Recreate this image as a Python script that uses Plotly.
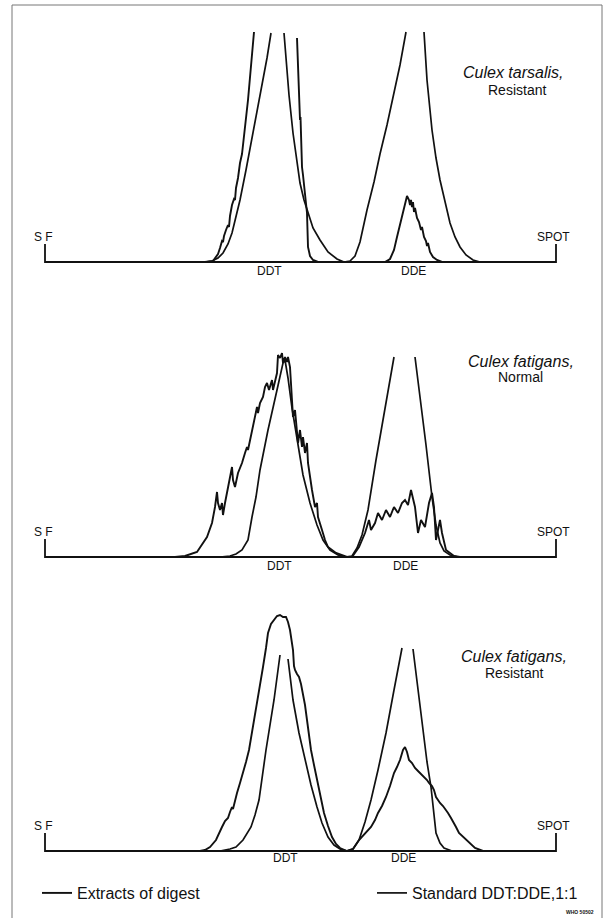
import plotly.graph_objects as go

# ---------------- data (position along strip: SF=0 ... SPOT=511; pen deflection above baseline) -------------
SF_POS = 0
SPOT_POS = 511
TICK_H = 18

# Panel 1: Culex tarsalis, Resistant
P1_STD_X = [0, 160, 167, 173, 178, 183, 187, 191, 195, 201, 208, 213, 218, 222, 226, None,
            239, 241, 244, 248, 252, 255, 259, 263, 268, 275, 283, 292, 299, 305, 310, 315, 322, 329, 335, 342, 348, 355, 361, None,
            379, 382, 387, 391, 395, 400, 405, 410, 415, 421, 428, 435, 511]
P1_STD_Y = [0, 0, 1, 4, 9, 18, 29, 45, 62, 92, 129, 154, 182, 204, 229, None,
            229, 202, 167, 129, 100, 79, 62, 49, 34, 22, 10, 3, 0, 1, 6, 20, 52, 80, 108, 137, 165, 197, 230, None,
            230, 182, 132, 104, 82, 59, 39, 25, 15, 7, 2, 0, 0]
P1_EXT_X = [0, 160, 168, 173, 175, 177, 178, 179, 181, 183, 184, 185, 187, 189, 190, 191, 193, 195, 197, 200, 203, 206, 209, None,
            252, 254, 255, 255.5, 256, 257, 258, 259, 260, 261, 262, 262.5, 263, 265, 268, 273, 340, 345, 349, 352, 355, 358, 360, 362,
            364, 365, 366, 367, 368, 369, 370, 372, 374, 376, 377, 379, 381, 382, 383, 385, 388, 392, 397, 511]
P1_EXT_Y = [0, 0, 1, 8, 14, 21, 20, 26, 32, 37, 35, 46, 57, 63, 62, 74, 84, 99, 108, 132, 162, 196, 230, None,
            224, 162, 142, 145, 112, 95, 87, 77, 67, 57, 49, 32, 15, 6, 2, 0, 0, 3, 12, 25, 37, 49, 59, 66,
            62, 57, 62, 55, 60, 50, 54, 44, 40, 32, 35, 25, 21, 16, 19, 10, 5, 2, 0, 0]

# Panel 2: Culex fatigans, Normal
P2_STD_X = [0, 175, 185, 191, 197, 203, 207, 211, 215, 223, 232, 238, 240, 243, 247, 252, 258, 265, 272, 278, 285, 293, 300,
            307, 312, 317, 323, 331, 340, 349, None, 370, 375, 381, 387, 391, 395, 399, 405, 413, 511]
P2_STD_Y = [0, 0, 1, 3, 7, 17, 40, 60, 87, 127, 167, 194, 197, 179, 149, 117, 82, 54, 32, 17, 7, 2, 0,
            1, 9, 22, 47, 97, 147, 200, None, 200, 162, 112, 60, 32, 14, 6, 2, 0, 0]
P2_EXT_X = [0, 130, 140, 152, 162, 167, 170, 172, 173, 175, 177, 178, 180, 183, 187, 188, 190, 193, 197, 200, 202, 203, 207,
            210, 212, 213, 215, 218, 220, 222, 224, 227, 228, 232, 233, 235, 237, 238, 240, 242, 243, 245, 247, 248, 250, 252,
            253, 255, 257, 258, 260, 262, 263, 267, 268, 270, 272, 273, 277, 280, 283, 291, 302, 307, 314, 320, 324, 326, 330,
            333, 337, 341, 345, 349, 353, 357, 360, 363, 366, 370, 373, 376, 380, 384, 387, 389, 391, 395, 397, 401, 409, 415, 511]
P2_EXT_Y = [0, 0, 1, 5, 20, 34, 50, 65, 54, 47, 54, 42, 54, 70, 90, 77, 70, 84, 94, 104, 110, 107, 127,
            140, 150, 144, 154, 160, 170, 174, 167, 177, 167, 184, 202, 199, 204, 194, 200, 195, 200, 190, 160, 140, 147, 127,
            114, 127, 110, 120, 104, 114, 94, 67, 60, 50, 54, 40, 27, 17, 10, 4, 0, 0, 10, 24, 37, 27, 34,
            44, 37, 47, 40, 50, 44, 54, 57, 52, 67, 50, 24, 37, 30, 54, 64, 50, 17, 37, 24, 7, 1, 0, 0]

# Panel 3: Culex fatigans, Resistant
P3_STD_X = [0, 175, 185, 191, 198, 206, 210, 214, 221, 229, 235, None,
            243, 248, 254, 260, 266, 272, 277, 283, 289, 295, 302, 308, 314, 320, 326, 333, 341, 349, 357, None,
            368, 373, 378, 382, 386, 389, 391, 395, 399, 407, 511]
P3_STD_Y = [0, 0, 2, 4, 11, 24, 36, 51, 101, 151, 196, None,
            192, 151, 118, 91, 66, 44, 28, 14, 6, 2, 0, 2, 11, 29, 51, 81, 118, 161, 203, None,
            202, 161, 118, 89, 64, 36, 18, 8, 3, 0, 0]
P3_EXT_X = [0, 155, 160, 165, 171, 174, 177, 180, 183, 185, 187, 188, 190, 192, 195, 198, 201, 204, 207, 210, 214, 218, 221,
            223, 226, 229, 232, 235, 238, 241, 243, 245, 247, 248, 249, 250, 252, 254, 256, 258, 260, 262, 264, 266, 269, 272,
            275, 279, 283, 287, 291, 295, 302, 308, 314, 320, 326, 330, 333, 337, 341, 345, 349, 352, 355, 358, 360, 362, 364,
            367, 370, 373, 376, 380, 382, 384, 387, 389, 391, 393, 395, 398, 401, 403, 406, 409, 411, 414, 417, 422, 426, 430,
            438, 511]
P3_EXT_Y = [0, 0, 1, 4, 11, 18, 24, 30, 33, 39, 44, 42, 51, 58, 68, 78, 89, 101, 118, 138, 161, 184, 203,
            218, 227, 231, 235, 236, 234, 234, 229, 221, 209, 201, 185, 181, 177, 174, 167, 158, 146, 131, 115, 101, 86, 71,
            56, 38, 25, 14, 7, 3, 0, 2, 11, 17, 24, 31, 38, 45, 54, 65, 78, 84, 91, 101, 104, 99, 91,
            88, 83, 80, 77, 74, 71, 68, 65, 61, 54, 51, 48, 45, 41, 38, 33, 28, 24, 18, 15, 11, 6, 3,
            0, 0]

PANELS = [
    ("y", P1_STD_X, P1_STD_Y, P1_EXT_X, P1_EXT_Y, "Culex tarsalis,", "Resistant"),
    ("y2", P2_STD_X, P2_STD_Y, P2_EXT_X, P2_EXT_Y, "Culex fatigans,", "Normal"),
    ("y3", P3_STD_X, P3_STD_Y, P3_EXT_X, P3_EXT_Y, "Culex fatigans,", "Resistant"),
]
PEAK_LABELS = ["DDT", "DDE"]
PEAK_LABEL_POS = [[224, 368], [234, 360], [240, 358]]
TITLE_POS = [(468, 190, 472, 172), (476, 195, 475, 180), (469, 195, 469, 178)]
LABEL_Y = [-9, -9, -7]
LEGEND_NAMES = ["Extracts of digest", "Standard DDT:DDE,1:1"]

W, H = 607, 918
FONT = "Liberation Sans, Arial, sans-serif"
INK = "#111111"

fig = go.Figure()
annotations = []
for i, (yref, sx, sy, ex, ey, t1, t2) in enumerate(PANELS):
    # SF / SPOT frame
    fig.add_trace(go.Scatter(x=[SF_POS, SF_POS, SPOT_POS, SPOT_POS], y=[TICK_H, 0, 0, TICK_H], mode="lines",
                             line=dict(color=INK, width=1.8), yaxis=yref, showlegend=False, hoverinfo="skip"))
    fig.add_trace(go.Scatter(x=sx, y=sy, mode="lines", line=dict(color=INK, width=1.7),
                             yaxis=yref, showlegend=(i == 0), name=LEGEND_NAMES[1], legend="legend2",
                             connectgaps=False))
    fig.add_trace(go.Scatter(x=ex, y=ey, mode="lines", line=dict(color=INK, width=1.9),
                             yaxis=yref, showlegend=(i == 0), name=LEGEND_NAMES[0], legend="legend",
                             connectgaps=False))
    fs = dict(family=FONT, size=12, color=INK)
    annotations.append(dict(x=SF_POS - 2, y=TICK_H + 7, xref="x", yref=yref, text="S F", showarrow=False,
                            font=fs, xanchor="center", yanchor="middle"))
    annotations.append(dict(x=SPOT_POS - 3, y=TICK_H + 7, xref="x", yref=yref, text="SPOT", showarrow=False,
                            font=fs, xanchor="center", yanchor="middle"))
    for lab, px in zip(PEAK_LABELS, PEAK_LABEL_POS[i]):
        annotations.append(dict(x=px, y=LABEL_Y[i], xref="x", yref=yref, text=lab, showarrow=False,
                                font=fs, xanchor="center", yanchor="middle"))
    tx1, ty1, tx2, ty2 = TITLE_POS[i]
    annotations.append(dict(x=tx1, y=ty1, xref="x", yref=yref, text="<i>" + t1 + "</i>", showarrow=False,
                            font=dict(family=FONT, size=16, color=INK), xanchor="center", yanchor="middle"))
    annotations.append(dict(x=tx2, y=ty2, xref="x", yref=yref, text=t2, showarrow=False,
                            font=dict(family=FONT, size=14, color=INK), xanchor="center", yanchor="middle"))

annotations.append(dict(x=580 / W, y=1 - 912 / H, xref="paper", yref="paper", text="<b>WHO 50502</b>",
                        showarrow=False, font=dict(family=FONT, size=5, color=INK), xanchor="center",
                        yanchor="middle"))

hidden = dict(visible=False, showgrid=False, zeroline=False, fixedrange=True)
fig.update_layout(
    width=W, height=H,
    margin=dict(l=0, r=0, t=0, b=0),
    paper_bgcolor="white", plot_bgcolor="white",
    xaxis=dict(range=[-45, 562], **hidden),
    yaxis=dict(domain=[1 - 300 / H, 1], range=[-38, 262], anchor="x", **hidden),
    yaxis2=dict(domain=[1 - 600 / H, 1 - 300 / H], range=[-43, 257], anchor="x", **hidden),
    yaxis3=dict(domain=[0, 1 - 600 / H], range=[-67, 251], anchor="x", **hidden),
    annotations=annotations,
    legend=dict(x=37 / W, y=1 - 893 / H, xanchor="left", yanchor="middle", bgcolor="rgba(0,0,0,0)",
                font=dict(family=FONT, size=16, color=INK), itemwidth=30),
    legend2=dict(x=372 / W, y=1 - 893 / H, xanchor="left", yanchor="middle", bgcolor="rgba(0,0,0,0)",
                 font=dict(family=FONT, size=16, color=INK), itemwidth=30),
    shapes=[dict(type="rect", xref="paper", yref="paper", x0=12 / W, x1=602 / W, y0=-0.02, y1=1 - 5 / H,
                 line=dict(color="#777777", width=1))],
    showlegend=True,
)

fig.write_html("out.html", config={"displayModeBar": False},
               post_script="document.body.style.margin='0';document.body.style.padding='0';"
                           "document.body.style.overflow='hidden';")
